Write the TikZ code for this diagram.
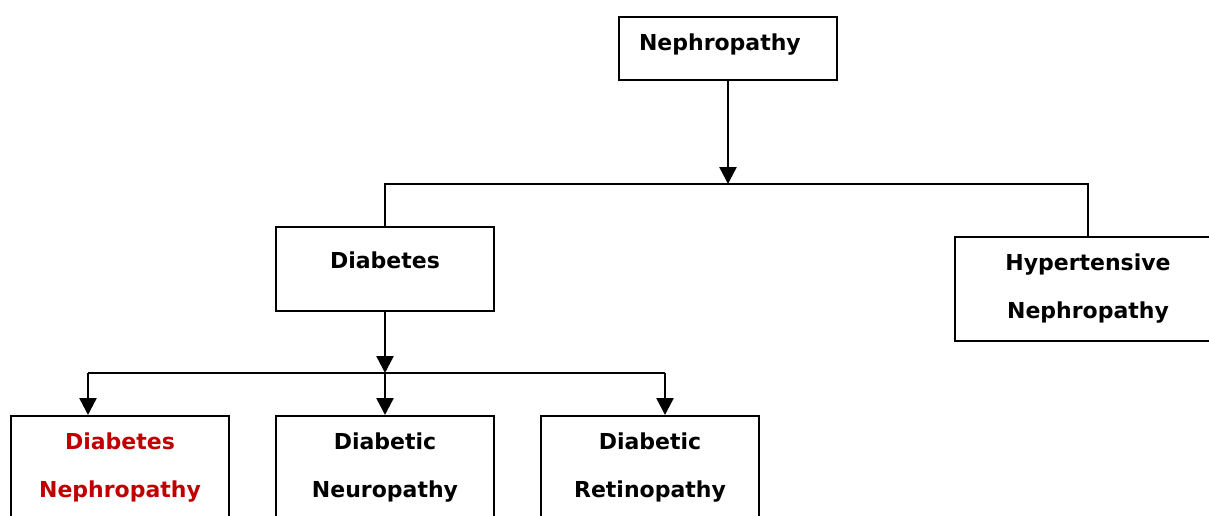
\documentclass[tikz,border=0pt]{standalone}
\usepackage{fontspec}
\setmainfont{DejaVu Sans}
\usetikzlibrary{positioning,arrows.meta}
\definecolor{diabred}{RGB}{192,0,0}

\begin{document}
\begin{tikzpicture}[x=0.5pt,y=-0.5pt,
% Box styles
		root/.style={rectangle
							    , draw=black, line width=1pt
							    , minimum width=109pt
							    , minimum height=31.5pt
							    , text width=89pt
							    , text depth=5.9pt
							    , align=left
							    , font=\bfseries\fontsize{11}{24}\selectfont
							    , anchor=north west},
		disease/.style={rectangle
							    , draw=black, line width=1pt
							    , minimum width=109pt
							    , minimum height=42pt
							    , text width=100pt
							    , align=center
							    , font=\bfseries\fontsize{11}{24}\selectfont
							    , anchor=north west},
% Connector style
		arbre/.style = {line width=1.2pt
			       			, >={Triangle[length=8.5pt,width=8.5pt]}}
	]
		\clip (0,0) rectangle (1209,515);
%% Draw boxes
		\node [root] (neph) at (618,16) {Nephropathy};
		\node [disease, text depth=8.4pt] (dia) at (275,226) {Diabetes};
		\node [disease, minimum width=133pt, minimum height=52pt] (hyp) at (954,236) {Hypertensive\\Nephropathy};
		\node [disease, minimum height=52pt, text=diabred] (dn) at (10,415) {Diabetes\\Nephropathy};
		\node [disease, minimum height=52pt] (neu) at (275,415) {Diabetic\\Neuropathy};
		\node [disease, minimum height=52pt] (ret) at (540,415) {Diabetic\\Retinopathy};
%% Draw edges
		\coordinate (j1) at (neph.south |- 0,184);
		\coordinate (j2) at (dia.south |- 0,373);
		\coordinate (b1) at (88,373);
		\coordinate (b3) at (665,373);
		\begin{scope}[arbre]
			\draw [->] (neph.south) -- (j1);
			\draw (dia.north) |- (j1) -| (hyp.north);
			\draw [->] (dia.south) -- (j2);
			\draw (b1) -- (b3);
			\draw [->] (b1) -- (b1 |- dn.north);
			\draw [->] (j2) -- (neu.north);
			\draw [->] (b3) -- (b3 |- ret.north);
		\end{scope}
\end{tikzpicture}
\end{document}
